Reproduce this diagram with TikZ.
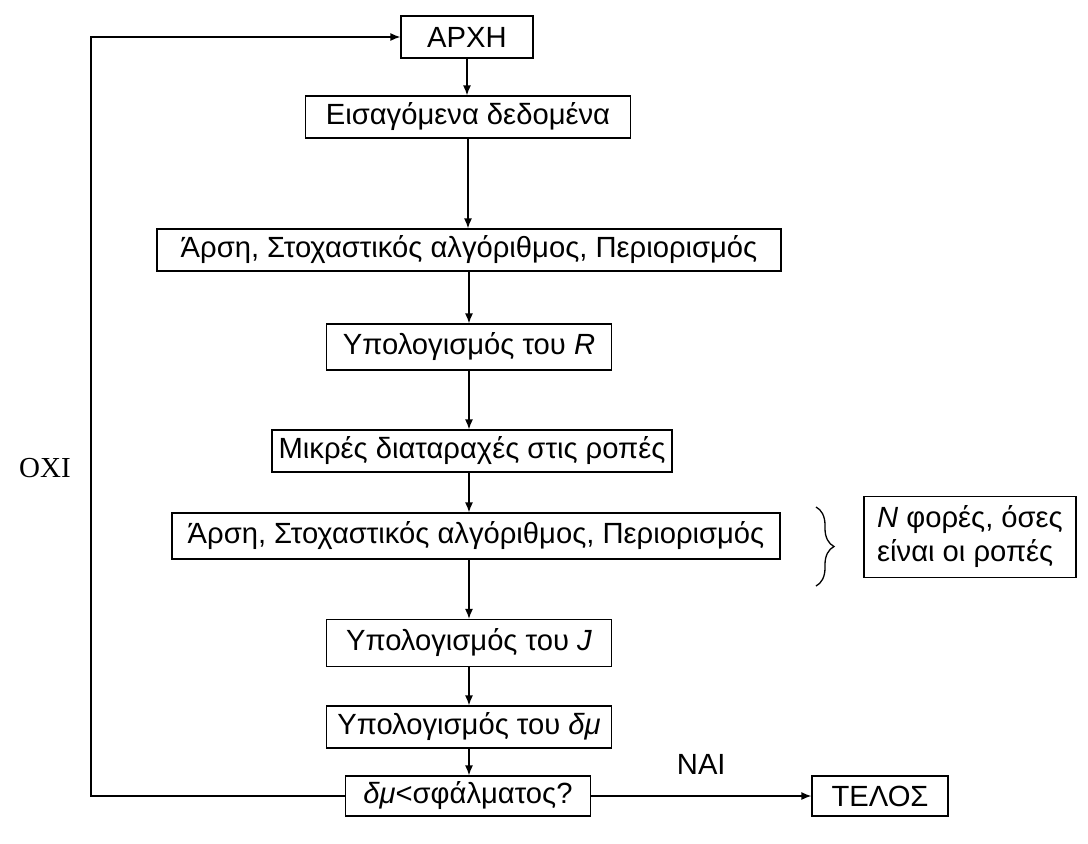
\documentclass[tikz,border=0pt]{standalone}
\usepackage{fontspec}
\setmainfont{Liberation Sans}
\newfontfamily\serifgr{Liberation Serif}
\usetikzlibrary{positioning,arrows.meta,decorations.pathreplacing}

\tikzset{
  stepbox/.style={draw, line width=0.65pt, inner sep=0pt, minimum height=21pt,
    font=\fontsize{14.6}{17}\selectfont},
  flow/.style={line width=0.65pt, -{Latex[length=5pt,width=4pt]}},
}

\begin{document}
\begin{tikzpicture}[x=0.5pt,y=-0.5pt]
\useasboundingbox (0,0) rectangle (1088,843);
% main chain
\node[stepbox, minimum width=66pt] (arxi) at (467,37) {ΑΡΧΗ};
\node[stepbox, minimum width=162.5pt] (eisagomena) at (468,117) {Εισαγόμενα δεδομένα\hspace{8pt}};
\node[stepbox, minimum width=312pt] (arsi1) at (469,250) {Άρση, Στοχαστικός αλγόριθμος, Περιορισμός};
\node[stepbox, minimum width=142.5pt, minimum height=23pt] (ypolR) at (469,347) {Υπολογισμός του \textit{R}};
\node[stepbox, minimum width=200pt] (diatar) at (472,451) {Μικρές διαταραχές στις ροπές};
\node[stepbox, minimum width=304pt, minimum height=23pt] (arsi2) at (476,536) {Άρση, Στοχαστικός αλγόριθμος, Περιορισμός};
\node[stepbox, minimum width=142.5pt, minimum height=23.5pt] (ypolJ) at (469,643) {Υπολογισμός του \textit{J}};
\node[stepbox, minimum width=142.5pt] (ypoldm) at (469,727) {Υπολογισμός του \textit{δμ}};
\node[stepbox, minimum width=122.5pt, minimum height=20pt] (elegxos) at (468,796) {\textit{δμ}<σφάλματος?};
\node[stepbox, minimum width=68pt, minimum height=20pt] (telos) at (880,796) {ΤΕΛΟΣ};

% side note
\node[stepbox, minimum width=106pt, minimum height=40.5pt, align=left] (fores) at (970,537)
  {\textit{N} φορές, όσες\\είναι οι ροπές};
\coordinate (brtop) at (816,507);
\coordinate (brbot) at (816,586);
\draw[line width=0.65pt, decorate, decoration={brace, amplitude=9pt}] (brtop) -- (brbot);

% arrows
\draw[flow] (arxi.south) -- (arxi.south |- eisagomena.north);
\draw[flow] (eisagomena.south) -- (eisagomena.south |- arsi1.north);
\draw[flow] (arsi1.south) -- (arsi1.south |- ypolR.north);
\draw[flow] (ypolR.south) -- (ypolR.south |- diatar.north);
\draw[flow] (ypolR.south |- diatar.south) -- (ypolR.south |- arsi2.north);
\draw[flow] (ypolR.south |- arsi2.south) -- (ypolJ.north);
\draw[flow] (ypolJ.south) -- (ypoldm.north);
\draw[flow] (ypoldm.south) -- (ypoldm.south |- elegxos.north);
\draw[flow] (elegxos.east) -- (telos.west) node[midway, above=7pt] {\fontsize{14.6}{17}\selectfont ΝΑΙ};

% loop back
\coordinate (loopcorner) at (91,37);
\draw[flow] (elegxos.west) -| (loopcorner) -- (arxi.west);
\node (oxi) at (45,468) {\serifgr\fontsize{14.5}{17}\selectfont ΟΧΙ};
\end{tikzpicture}
\end{document}
